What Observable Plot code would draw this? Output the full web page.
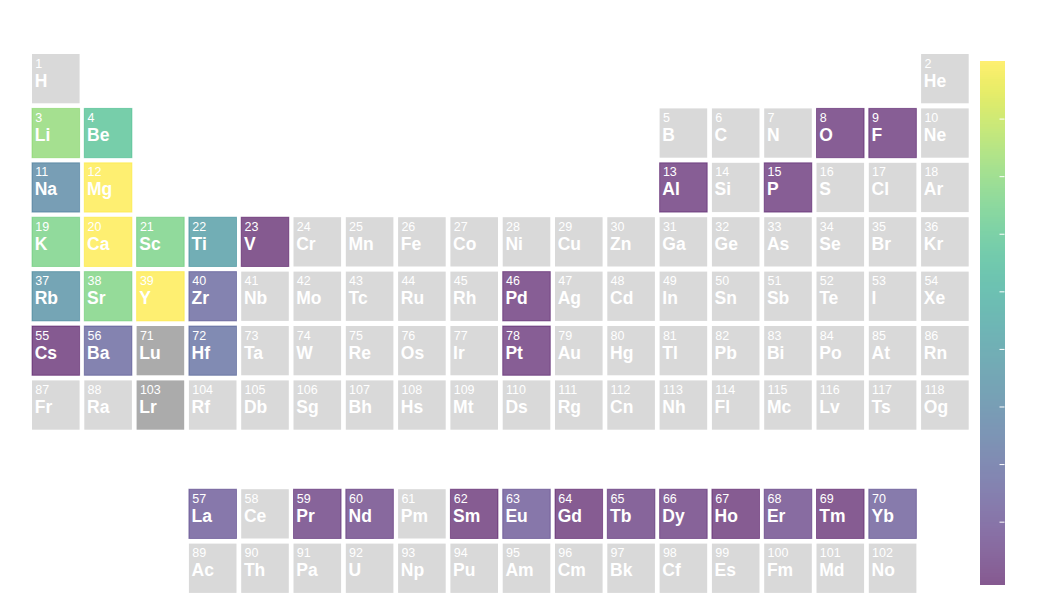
<!DOCTYPE html>
<html><head><meta charset="utf-8">
<script src="https://cdn.jsdelivr.net/npm/d3@7"></script>
<script src="https://cdn.jsdelivr.net/npm/@observablehq/plot@0.6"></script>
<style>
body{margin:0;background:#fff;}
#wrap{position:relative;width:1050px;height:600px;overflow:hidden;}
#wrap > svg{position:absolute;top:0;}
</style></head><body><div id="wrap"></div>
<script>
// Element symbols ordered by atomic number
const symbols = ["H","He","Li","Be","B","C","N","O","F","Ne","Na","Mg","Al","Si","P","S","Cl","Ar",
"K","Ca","Sc","Ti","V","Cr","Mn","Fe","Co","Ni","Cu","Zn","Ga","Ge","As","Se","Br","Kr",
"Rb","Sr","Y","Zr","Nb","Mo","Tc","Ru","Rh","Pd","Ag","Cd","In","Sn","Sb","Te","I","Xe",
"Cs","Ba","La","Ce","Pr","Nd","Pm","Sm","Eu","Gd","Tb","Dy","Ho","Er","Tm","Yb","Lu","Hf","Ta","W","Re","Os","Ir","Pt","Au","Hg","Tl","Pb","Bi","Po","At","Rn",
"Fr","Ra","Ac","Th","Pa","U","Np","Pu","Am","Cm","Bk","Cf","Es","Fm","Md","No","Lr","Rf","Db","Sg","Bh","Hs","Mt","Ds","Rg","Cn","Nh","Fl","Mc","Lv","Ts","Og"];
// Elements with a value (colored) and their values (estimated from the colour bar)
const valueSymbols = ["Li","Be","Na","Mg","K","Ca","Sc","Ti","V","Rb","Sr","Y","Zr","Cs","Ba","Hf","Pd","Pt","O","F","Al","P",
"La","Pr","Nd","Sm","Eu","Gd","Tb","Dy","Ho","Er","Tm","Yb"];
const values = [7.1,5.8,3.0,9.0,6.6,9.0,6.6,3.9,-0.1,3.45,6.7,9.0,1.63,-0.05,1.63,2.0,0.08,0.08,0.08,0.08,0.08,0.08,
1.17,0.31,0.5,0.0,1.08,0.0,0.36,0.26,0.0,0.63,0.0,1.27];
// Elements drawn in the darker gray
const darkGray = ["Lu","Lr"];
const colorDomain = [-0.1, 9.0];
const colorTicks = [1,2,3,4,5,6,7,8];

function gridPos(z){
  if(z===1) return [1,1];
  if(z===2) return [18,1];
  if(z<=10) return z<=4 ? [z-2,2] : [z+8,2];
  if(z<=18) return z<=12 ? [z-10,3] : [z,3];
  if(z<=36) return [z-18,4];
  if(z<=54) return [z-36,5];
  if(z<=56) return [z-54,6];
  if(z<=70) return [z-53,9];
  if(z<=86) return [z-68,6];
  if(z<=88) return [z-86,7];
  if(z<=102) return [z-85,10];
  return [z-100,7];
}
const valueMap = new Map(valueSymbols.map((s,i)=>[s,values[i]]));
const elements = symbols.map((s,i)=>{
  const [col,row] = gridPos(i+1);
  return {z:i+1, symbol:s, col, row, value: valueMap.has(s) ? valueMap.get(s) : null, dark: darkGray.includes(s)};
});
const colored = elements.filter(d=>d.value!==null);
const plain = elements.filter(d=>d.value===null);

const hw = 0.455, hh = 0.453;
const font = "'Liberation Sans', Arial, Helvetica, sans-serif";
const colorOpts = {type:"linear", scheme:"viridis", domain:colorDomain};

const main = Plot.plot({
  width: 975, height: 600,
  margin: 0,
  x: {domain:[0.5,18.5], range:[29.65,971.05], axis:null},
  y: {domain:[0.5,10.5], range:[51.45,595.45], axis:null},
  color: colorOpts,
  style: {fontFamily: font, background:"transparent"},
  marks: [
    Plot.rect(plain, {x1:d=>d.col-hw, x2:d=>d.col+hw, y1:d=>d.row-hh, y2:d=>d.row+hh,
      fill:d=>d.dark ? "#ababab" : "#d9d9d9"}),
    Plot.rect(colored, {x1:d=>d.col-hw, x2:d=>d.col+hw, y1:d=>d.row-hh, y2:d=>d.row+hh,
      fill:"value", fillOpacity:0.65, stroke:"value", strokeOpacity:0.5, strokeWidth:1}),
    Plot.text(elements, {x:d=>d.col-hw, y:d=>d.row-hh, text:d=>String(d.z), textAnchor:"start", lineAnchor:"bottom",
      dx:2.8, dy:13, fill:"white", fontSize:12.5}),
    Plot.text(elements, {x:d=>d.col-hw, y:d=>d.row-hh, text:"symbol", textAnchor:"start", lineAnchor:"bottom",
      dx:2.2, dy:32, fill:"white", fontSize:17.5, fontWeight:"bold"})
  ]
});
main.style.left = "0px";
document.getElementById("wrap").appendChild(main);

// vertical colour bar (1px slices, no overlap)
const nSlices = 524;
const slices = d3.range(nSlices).map(i=>({
  v0: colorDomain[0] + i*(colorDomain[1]-colorDomain[0])/nSlices,
  v1: colorDomain[0] + (i+1)*(colorDomain[1]-colorDomain[0])/nSlices
}));
const bar = Plot.plot({
  width: 80, height: 600, margin: 0,
  x: {domain:[0,1], range:[19.5,44.5], axis:null},
  y: {domain:colorDomain, range:[585,61], axis:null},
  color: colorOpts,
  style:{background:"transparent"},
  marks: [
    Plot.rect(slices, {x1:0, x2:1, y1:"v0", y2:"v1", fill:d=>(d.v0+d.v1)/2, fillOpacity:0.65, shapeRendering:"crispEdges"}),
    Plot.ruleY(colorTicks, {x1:0.8, x2:1, stroke:"white", strokeWidth:1})
  ]
});
bar.style.left = "960px";
document.getElementById("wrap").appendChild(bar);
</script></body></html>
